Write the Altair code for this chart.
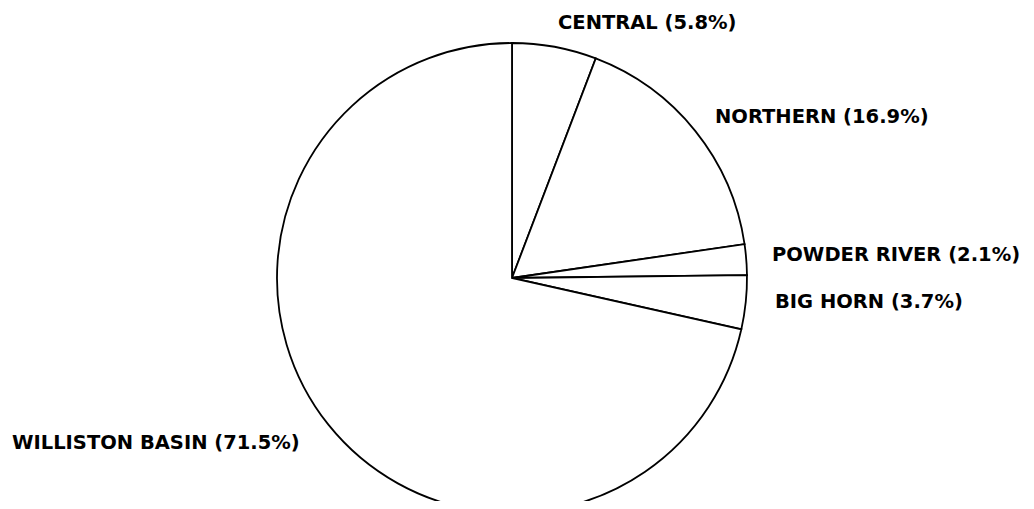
import altair as alt
import pandas as pd

# Data (clockwise from 12 o'clock)
regions = ["CENTRAL", "NORTHERN", "POWDER RIVER", "BIG HORN", "WILLISTON BASIN"]
shares = [5.8, 16.9, 2.1, 3.7, 71.5]

# Layout constants (chart pixel space)
W, H = 1018, 493
CX, CY = 504, 270
R = 235
label_x = [550, 707, 764, 767, 4]
label_y = [15, 109, 247, 294, 435]

df = pd.DataFrame({
    "region": regions,
    "share": shares,
    "order": list(range(len(regions))),
})
df["label"] = [f"{r} ({s}%)" for r, s in zip(regions, shares)]

lab = pd.DataFrame({
    "label": df["label"],
    "lx": label_x,
    "ly": label_y,
})

pie = alt.Chart(df).mark_arc(
    radius=R, fill="white", stroke="black", strokeWidth=1.8
).encode(
    theta=alt.Theta("share:Q", stack=True),
    order=alt.Order("order:Q"),
    x=alt.value(CX),
    y=alt.value(CY),
)

text = alt.Chart(lab).mark_text(
    align="left", baseline="middle", font="DejaVu Sans", fontWeight="bold",
    fontSize=19.5, color="black"
).encode(
    x=alt.X("lx:Q", scale=None),
    y=alt.Y("ly:Q", scale=None),
    text="label:N",
)

chart = alt.layer(pie, text).properties(
    width=W, height=H, padding=0,
    autosize=alt.AutoSizeParams(type="none"),
    background="white",
).configure_view(stroke=None)

chart.save("out.html", embed_options={"renderer": "svg", "actions": False})
